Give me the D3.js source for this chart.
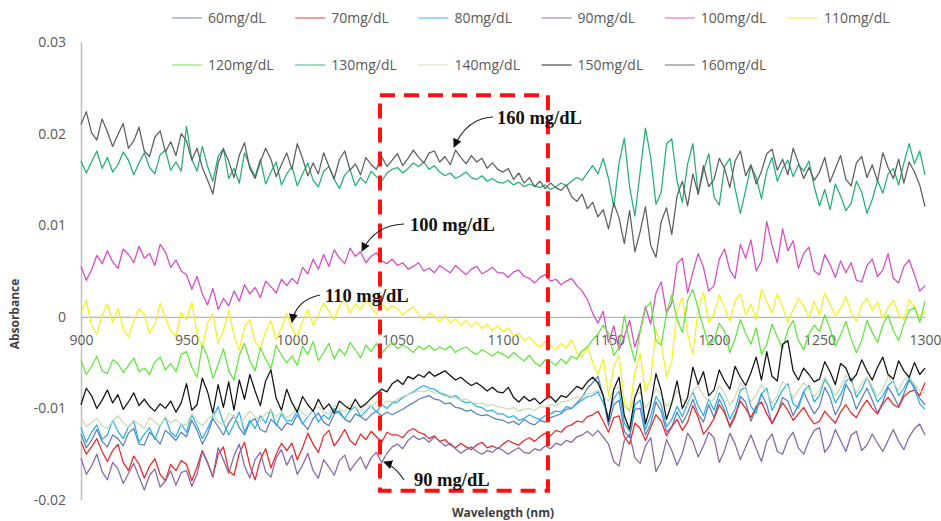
<!DOCTYPE html>
<html>
<head>
<meta charset="utf-8">
<script src="https://cdn.jsdelivr.net/npm/d3@7"></script>
<style>
  body { margin: 0; background: #fff; }
  svg { display: block; }
</style>
</head>
<body>
<div id="chart"></div>
<script>
// absorbance values are written x1000 (mAbs), one value every 2.5 nm, 900..1300
const wavelengths = d3.range(900, 1300.1, 2.5);

const concentrations = ["60mg/dL", "70mg/dL", "80mg/dL", "90mg/dL", "100mg/dL", "110mg/dL",
  "120mg/dL", "130mg/dL", "140mg/dL", "150mg/dL", "160mg/dL"];

const c60 = [
  -12.8, -14.3, -13.5, -12.3, -13.6, -14.2, -12.9, -13.3, -14.1, -12.7, -12.2, -13.9, -14.0, -12.6, -13.2, -13.9, -12.4, -12.9, -13.5, -12.6,
  -13.1, -11.3, -12.4, -13.9, -12.8, -11.1, -12.0, -12.9, -11.6, -10.8, -12.1, -12.9, -11.5, -11.1, -12.3, -12.6, -11.2, -11.7, -12.4, -11.6,
  -11.8, -10.7, -11.6, -12.3, -11.1, -10.5, -11.5, -11.9, -10.6, -10.3, -11.2, -11.5, -10.6, -10.9, -11.3, -10.7, -10.3, -10.8, -10.4, -10.7,
  -10.4, -10.1, -9.7, -9.4, -9.0, -8.8, -8.6, -9.0, -9.1, -9.5, -9.4, -9.9, -10.0, -10.3, -10.2, -10.6, -10.8, -10.7, -11.0, -11.2,
  -11.3, -11.6, -11.4, -11.8, -11.2, -11.6, -11.8, -11.3, -11.5, -11.0, -10.8, -10.6, -10.1, -10.0, -9.4, -8.8, -7.8, -7.2, -6.5, -8.7,
  -11.9, -9.6, -9.1, -12.5, -13.2, -10.1, -10.0, -12.9, -11.7, -9.3, -10.3, -12.6, -12.0, -10.4, -11.6, -10.5, -9.0, -10.6, -11.5, -9.6,
  -11.0, -9.0, -10.2, -12.1, -11.0, -8.7, -9.3, -11.4, -10.0, -8.4, -9.6, -11.7, -10.6, -8.8, -9.2, -10.8, -9.6, -8.2, -9.5, -10.6,
  -9.8, -7.7, -8.8, -10.7, -9.6, -7.4, -8.3, -10.1, -8.9, -7.8, -9.1, -10.5, -9.3, -7.7, -8.6, -9.8, -8.4, -6.9, -7.6, -8.9,
  -9.6];
const c70 = [
  -13.6, -15.0, -14.2, -13.3, -14.7, -15.8, -14.6, -13.9, -15.9, -16.8, -15.2, -16.1, -17.6, -16.3, -15.5, -17.2, -17.9, -16.1, -16.8, -15.7,
  -16.1, -17.9, -16.4, -14.6, -15.9, -17.5, -15.0, -14.2, -16.8, -17.3, -14.9, -13.7, -16.2, -17.8, -15.6, -14.4, -16.5, -15.0, -13.8, -14.6,
  -13.8, -15.6, -14.3, -12.7, -13.9, -14.8, -13.0, -12.4, -14.1, -13.3, -12.3, -13.5, -14.0, -12.8, -13.4, -12.5, -13.1, -13.7, -12.6, -12.9,
  -12.9, -13.2, -12.5, -12.2, -12.6, -12.8, -13.3, -13.0, -13.6, -13.4, -14.0, -14.3, -13.8, -14.2, -14.5, -14.0, -13.7, -14.3, -14.1, -14.4,
  -13.9, -13.5, -13.8, -14.0, -13.5, -13.2, -13.6, -13.1, -12.7, -13.0, -12.4, -12.6, -12.0, -11.8, -11.4, -11.5, -10.9, -10.7, -10.3, -11.4,
  -12.6, -11.0, -10.8, -13.1, -13.9, -11.6, -12.2, -13.5, -12.1, -10.7, -11.4, -13.0, -12.0, -11.2, -12.4, -11.5, -9.7, -11.0, -12.8, -12.1,
  -11.1, -9.6, -10.5, -11.9, -10.7, -9.2, -10.0, -11.0, -9.8, -9.3, -10.6, -11.6, -10.5, -9.4, -10.2, -11.3, -10.6, -9.9, -10.9, -11.7,
  -11.4, -10.3, -11.0, -11.6, -10.4, -9.6, -10.5, -11.0, -9.9, -9.1, -10.0, -10.6, -9.5, -8.8, -9.6, -9.9, -8.7, -8.2, -8.0, -8.6,
  -7.2];
const c80 = [
  -12.1, -13.7, -12.6, -11.8, -13.4, -12.9, -11.3, -12.5, -13.3, -12.0, -11.4, -13.7, -12.8, -12.1, -13.4, -11.9, -11.0, -12.6, -13.1, -11.7,
  -12.6, -10.7, -11.9, -13.3, -12.2, -10.9, -9.8, -11.6, -12.9, -11.7, -10.4, -12.6, -11.3, -12.2, -10.8, -11.6, -10.1, -11.9, -10.6, -11.4,
  -11.3, -10.3, -11.7, -10.9, -10.2, -11.5, -10.7, -11.2, -10.0, -10.6, -11.1, -10.2, -9.8, -10.9, -10.3, -9.7, -10.4, -9.6, -10.0, -9.4,
  -9.3, -8.8, -8.5, -8.2, -7.8, -7.5, -7.8, -7.9, -8.3, -8.5, -8.8, -8.6, -9.1, -9.4, -9.3, -9.8, -9.9, -10.3, -10.2, -10.6,
  -10.6, -11.0, -10.8, -11.3, -11.1, -10.7, -11.0, -11.2, -10.8, -10.6, -10.3, -10.4, -9.8, -10.0, -9.5, -9.1, -8.7, -8.6, -8.2, -9.4,
  -10.9, -8.9, -8.1, -11.6, -12.5, -9.6, -9.1, -12.3, -10.8, -8.7, -9.6, -12.0, -11.2, -9.8, -10.9, -9.4, -8.2, -9.7, -10.8, -9.0,
  -10.2, -8.3, -9.4, -11.2, -10.1, -8.0, -7.7, -9.8, -10.5, -8.4, -7.8, -10.2, -9.1, -8.0, -7.3, -9.5, -10.0, -8.1, -7.5, -9.3,
  -8.6, -6.8, -7.7, -9.4, -8.5, -7.0, -6.7, -8.8, -7.9, -6.6, -7.9, -9.3, -8.6, -7.5, -7.0, -8.6, -7.8, -6.7, -7.9, -9.5,
  -10.1];
const c90 = [
  -15.4, -17.2, -16.3, -15.0, -16.9, -17.8, -15.9, -16.6, -18.2, -17.1, -16.0, -17.5, -18.9, -17.3, -16.6, -18.6, -17.9, -16.8, -18.4, -17.0,
  -16.8, -18.5, -17.2, -14.7, -16.0, -17.4, -14.3, -15.6, -17.1, -15.2, -13.9, -16.3, -17.6, -15.6, -14.8, -16.9, -17.5, -15.4, -14.5, -16.2,
  -15.1, -17.2, -16.2, -14.9, -16.8, -17.6, -15.6, -16.4, -17.3, -15.7, -15.1, -16.8, -16.0, -15.3, -16.6, -15.4, -14.8, -15.9, -14.9, -14.2,
  -13.9, -14.4, -13.5, -13.0, -13.4, -13.2, -13.7, -13.1, -13.6, -14.1, -13.8, -14.4, -14.9, -14.5, -14.2, -14.7, -15.0, -14.6, -14.8, -14.3,
  -14.6, -15.0, -14.6, -14.3, -14.8, -14.9, -14.4, -14.6, -14.1, -14.4, -13.8, -14.0, -13.5, -13.7, -13.1, -12.9, -12.5, -13.0, -12.4, -13.1,
  -13.9, -15.8, -16.3, -13.5, -12.8, -15.4, -16.0, -14.1, -13.2, -16.9, -15.8, -13.4, -14.6, -16.2, -14.9, -12.7, -13.6, -15.3, -14.1, -12.6,
  -13.2, -15.9, -14.6, -12.7, -13.9, -15.6, -14.2, -12.9, -14.4, -15.8, -13.6, -12.8, -14.7, -15.0, -13.4, -12.6, -14.3, -15.0, -13.5, -12.4,
  -12.1, -14.8, -14.0, -12.3, -13.5, -14.7, -12.9, -12.5, -14.6, -14.0, -12.8, -13.8, -14.7, -13.5, -12.3, -13.6, -14.5, -13.1, -12.2, -11.7,
  -12.9];
const c100 = [
  5.5, 4.0, 5.1, 6.7, 5.8, 7.2, 6.0, 5.3, 7.4, 6.8, 5.9, 7.7, 6.4, 6.9, 5.6, 7.9, 7.1, 5.4, 6.2, 5.0,
  4.6, 3.0, 4.4, 2.5, 1.3, 3.1, 0.8, 2.0, 1.2, 2.8, 1.7, 3.5, 2.5, 3.2, 2.1, 3.9, 3.3, 2.6, 4.1, 3.4,
  4.2, 3.6, 5.4, 4.7, 6.3, 5.2, 6.8, 5.5, 7.3, 6.4, 5.8, 7.5, 6.6, 7.1, 5.9, 6.6, 7.0, 6.1, 5.8, 6.3,
  5.6, 5.9, 5.2, 5.5, 5.9, 5.0, 5.3, 4.8, 5.6, 5.2, 4.8, 5.6, 5.1, 4.6, 5.2, 5.5, 4.7, 5.0, 5.4, 4.8,
  4.8, 4.3, 4.9, 5.1, 4.4, 4.2, 3.7, 4.3, 4.6, 3.9, 4.1, 3.5, 3.9, 4.2, 3.4, 2.8, 1.9, 0.4, -0.7, 0.6,
  -2.8, -1.0, -3.6, -2.2, -0.4, -3.3, -1.5, 1.1, -0.8, 2.6, 3.8, 0.4, 1.5, 5.8, 6.4, 2.6, 4.9, 6.9, 5.4, 2.8,
  3.4, 6.3, 7.4, 5.1, 4.2, 7.9, 6.4, 8.4, 5.0, 6.1, 10.4, 7.8, 5.9, 9.6, 7.2, 8.3, 5.3, 6.9, 7.6, 5.0,
  4.6, 6.8, 5.7, 4.3, 6.1, 4.8, 5.9, 4.0, 3.8, 5.6, 6.3, 4.4, 5.1, 6.9, 4.2, 3.7, 5.5, 6.2, 4.6, 2.8,
  3.4];
const c110 = [
  0.4, 1.8, -0.9, -1.9, 0.2, 1.4, -0.6, 0.9, -1.3, -2.2, -0.4, 0.9, 0.2, -1.8, -0.8, 1.5, -0.1, -1.6, -2.1, 0.5,
  -0.3, 1.6, -1.8, -3.4, -0.6, 0.3, -2.9, -1.5, 0.7, -2.0, -3.7, -1.1, -0.3, -2.7, -3.5, -1.6, -0.4, -2.5, -1.2, 0.4,
  -1.3, -2.1, -0.5, 0.8, -0.9, 0.2, 1.5, 0.6, -0.3, 1.2, 1.9, 0.4, 1.4, 0.8, 2.0, 1.1, 0.3, 1.6, 0.7, 1.2,
  0.9, 0.2, 0.7, 1.1, 0.3, -0.4, 0.4, 0.1, -0.5, 0.2, -0.7, -0.2, -0.9, -0.4, -1.1, -0.5, -1.3, -0.8, -1.5, -1.0,
  -1.6, -1.2, -2.1, -1.8, -2.6, -2.2, -2.9, -3.3, -2.7, -3.1, -3.6, -2.9, -3.4, -2.5, -3.9, -4.4, -3.2, -5.0, -6.3, -4.6,
  -8.6, -5.4, -4.2, -9.3, -10.3, -6.1, -4.0, -8.2, -6.8, -1.5, -3.0, -6.5, -4.8, 0.6, 2.1, -1.9, -4.1, 0.9, 2.7, -0.6,
  0.3, 2.4, 1.0, -0.5, 1.8, 2.5, 0.2, 1.4, -0.3, 3.0, 1.6, 0.4, 2.5, 1.1, -0.6, 0.8, 2.0, 1.2, -0.1, 1.7,
  0.2, 2.6, 1.4, 0.1, 0.9, 2.2, 0.5, -0.5, 1.3, 2.0, 0.7, 1.6, -0.2, 1.0, 1.8, 0.3, -0.3, 1.9, 1.1, -0.2,
  0.6];
const c120 = [
  -4.8, -6.3, -5.4, -4.3, -5.9, -6.2, -4.7, -5.1, -6.1, -5.3, -4.5, -6.0, -5.6, -6.3, -4.9, -4.4, -5.8, -5.1, -6.0, -4.1,
  -3.8, -5.5, -6.6, -3.1, -4.4, -6.7, -5.2, -3.5, -5.9, -6.9, -4.2, -2.9, -4.8, -5.9, -3.4, -4.6, -5.7, -3.1, -4.2, -5.0,
  -4.3, -5.3, -3.2, -4.1, -2.7, -4.8, -3.9, -2.9, -4.6, -3.5, -4.2, -2.8, -3.6, -4.5, -3.1, -3.8, -2.9, -4.0, -3.3, -2.8,
  -3.5, -3.1, -3.4, -3.9, -3.2, -3.6, -3.1, -3.7, -3.3, -3.6, -3.2, -3.9, -3.5, -3.3, -3.8, -4.1, -3.6, -3.9, -4.3, -3.8,
  -4.1, -4.5, -3.9, -4.4, -4.8, -4.2, -5.0, -5.4, -4.7, -4.9, -5.3, -4.6, -5.1, -4.3, -4.6, -3.7, -3.3, -2.5, -1.9, -0.9,
  -1.8, -4.2, -3.4, 0.1, -2.7, -4.9, -1.6, 0.9, 1.6, -2.6, -3.1, 0.4, 2.4, -0.3, -1.7, 1.8, 3.0, 0.9, -1.2, -3.1,
  -2.6, -0.7, -1.6, -3.9, -2.4, -0.3, -1.8, -3.0, -1.2, -4.1, -3.0, -0.8, -2.2, -3.5, -1.4, -0.4, -2.6, -3.6, -1.9, -0.9,
  -1.6, 0.2, -1.3, -3.2, -2.0, -0.5, -2.4, -3.9, -2.6, -0.4, -1.7, -2.8, -0.9, 0.2, -1.5, -2.6, -0.8, 0.7, 1.0, -0.6,
  1.7];
const c130 = [
  17.0, 15.7, 16.9, 18.1, 16.2, 17.4, 15.8, 16.6, 18.0, 17.1, 15.5, 16.8, 17.9, 16.3, 15.6, 17.7, 18.2, 16.0, 16.9, 15.9,
  20.8, 17.2, 15.9, 18.6, 16.4, 14.8, 17.5, 18.4, 15.1, 16.2, 14.6, 17.9, 16.5, 15.3, 17.2, 14.5, 15.8, 16.9, 14.4, 15.6,
  16.4, 14.3, 15.6, 16.8, 14.9, 14.2, 15.9, 16.4, 15.0, 14.0, 15.5, 16.1, 14.3, 15.2, 14.6, 15.9, 15.3, 14.8, 15.7, 16.1,
  16.3, 15.7, 16.2, 16.8, 16.4, 16.9, 16.1, 16.5, 15.8, 15.4, 15.7, 15.1, 15.4, 15.8, 15.2, 15.0, 15.4, 14.8, 15.1, 14.7,
  14.6, 14.9, 14.4, 14.7, 14.2, 14.5, 14.3, 14.1, 14.4, 13.9, 14.2, 14.6, 14.3, 14.8, 15.2, 14.9, 15.7, 16.5, 15.6, 17.3,
  15.1, 12.0, 16.8, 19.5, 14.2, 11.0, 15.8, 20.6, 17.4, 12.3, 13.6, 18.9, 19.4, 14.8, 12.5, 16.7, 18.9, 13.4, 15.9, 17.8,
  13.1, 12.2, 16.4, 17.3, 14.0, 11.3, 13.8, 16.5, 15.2, 12.9, 15.9, 17.4, 14.8, 16.2, 17.1, 15.3, 16.6, 15.9, 17.0, 14.2,
  12.1, 13.9, 11.7, 14.5, 13.2, 11.6, 12.4, 14.8, 13.6, 11.3, 12.8, 14.9, 13.5, 15.6, 16.2, 14.4, 16.8, 18.9, 16.7, 18.1,
  15.5];
const c140 = [
  -11.0, -12.0, -11.5, -11.1, -11.9, -12.2, -11.4, -10.8, -11.6, -12.1, -11.3, -11.7, -12.2, -11.0, -11.5, -11.9, -10.9, -11.6, -11.2, -11.8,
  -11.8, -10.6, -11.3, -11.9, -11.2, -10.7, -11.5, -11.8, -10.5, -10.9, -11.6, -11.1, -10.3, -10.9, -11.4, -10.6, -10.2, -10.9, -10.4, -11.0,
  -10.6, -9.9, -10.5, -10.9, -10.1, -9.8, -10.4, -10.6, -9.6, -10.1, -10.3, -9.5, -9.9, -10.2, -9.5, -9.8, -9.3, -9.7, -9.2, -9.3,
  -9.0, -8.7, -8.5, -8.3, -8.1, -8.2, -8.0, -8.3, -8.4, -8.7, -8.6, -8.9, -9.1, -9.0, -9.3, -9.5, -9.4, -9.7, -9.6, -9.8,
  -9.9, -10.1, -9.9, -10.3, -10.1, -10.0, -10.2, -9.8, -9.9, -9.6, -9.7, -9.3, -9.2, -9.0, -8.8, -8.7, -8.4, -8.3, -8.0, -8.7,
  -9.2, -7.9, -7.7, -9.8, -10.3, -8.6, -8.2, -10.0, -9.1, -7.8, -8.5, -9.8, -9.3, -8.1, -9.0, -9.7, -8.0, -7.6, -8.6, -9.3,
  -9.0, -7.5, -8.3, -9.7, -8.8, -7.2, -7.9, -9.3, -8.5, -7.4, -8.2, -9.4, -8.6, -7.1, -7.6, -8.9, -8.0, -7.2, -7.9, -8.7,
  -8.0, -6.6, -7.5, -8.6, -7.7, -6.4, -7.1, -8.3, -7.2, -6.6, -7.6, -8.7, -7.9, -6.5, -7.2, -8.0, -6.9, -6.5, -7.4, -8.1,
  -8.3];
const c150 = [
  -9.6, -7.8, -8.6, -10.0, -9.1, -8.0, -9.4, -8.5, -10.1, -9.3, -8.3, -9.7, -9.0, -9.8, -10.3, -9.5, -10.0, -9.2, -10.4, -9.4,
  -7.3, -10.2, -9.6, -6.7, -8.2, -10.5, -7.4, -9.9, -7.1, -10.2, -6.9, -9.0, -6.3, -8.1, -9.7, -7.0, -5.8, -8.9, -10.2, -7.9,
  -9.4, -10.4, -8.7, -9.6, -10.3, -9.0, -10.1, -9.5, -10.5, -9.2, -9.7, -10.1, -9.0, -9.9, -9.5, -8.9, -8.4, -7.9, -8.2, -7.3,
  -6.9, -7.4, -6.5, -6.8, -6.3, -6.6, -6.0, -6.5, -6.2, -5.9, -6.4, -6.9, -6.6, -7.1, -7.5, -7.2, -7.6, -8.1, -7.7, -8.2,
  -8.3, -7.7, -8.8, -9.3, -8.7, -9.2, -8.9, -9.5, -9.0, -8.7, -9.3, -8.6, -8.8, -8.2, -7.6, -7.9, -7.1, -6.6, -7.2, -8.6,
  -11.4, -7.9, -6.6, -10.8, -12.3, -8.8, -7.3, -11.7, -9.6, -6.2, -8.1, -11.2, -9.4, -7.0, -10.0, -8.8, -5.5, -7.4, -6.0, -8.6,
  -8.0, -5.8, -7.0, -7.9, -5.4, -6.6, -7.5, -6.1, -4.4, -6.9, -3.8, -6.5, -7.0, -3.0, -2.6, -5.9, -6.9, -5.6, -6.3, -7.1,
  -6.8, -4.9, -6.0, -7.4, -5.1, -5.6, -7.0, -6.3, -4.7, -5.9, -6.9, -5.5, -4.4, -6.3, -6.8, -4.8, -5.9, -6.6, -5.0, -6.3,
  -5.6];
const c160 = [
  21.0, 22.4, 20.1, 19.3, 21.6, 20.2, 18.6, 19.9, 21.1, 18.4, 19.2, 20.7, 18.1, 17.5, 19.6, 20.3, 18.0, 19.1, 17.6, 20.0,
  19.2, 17.1, 18.4, 16.3, 14.9, 13.4, 16.8, 18.3, 17.0, 15.2, 17.6, 19.0, 16.2, 15.1, 16.9, 18.4, 17.2, 15.3, 16.6, 17.9,
  16.1, 18.9, 17.3, 15.4, 16.8, 15.6, 17.9, 16.4, 15.1, 17.2, 18.1, 16.0, 16.7, 15.5, 17.4, 16.6, 16.1, 17.5, 16.4, 17.1,
  17.8, 16.5, 17.3, 18.2, 17.4, 16.8, 17.9, 18.1, 16.9, 17.5, 16.6, 18.2, 17.4, 16.7, 17.6, 16.9, 17.3, 16.2, 16.8, 16.1,
  15.8, 16.2, 15.0, 15.7, 14.6, 15.2, 14.2, 14.8, 14.0, 14.6, 14.1, 13.8, 14.4, 13.1, 12.6, 13.4, 11.8, 12.5, 10.9, 11.7,
  9.6, 12.4, 10.8, 8.0, 11.6, 7.1, 9.3, 12.0, 7.8, 6.5, 10.4, 11.9, 9.0, 13.2, 14.8, 12.1, 15.6, 13.4, 16.5, 14.2,
  15.0, 17.3, 16.2, 14.1, 17.0, 18.1, 15.4, 16.6, 14.5, 15.9, 17.8, 18.3, 16.0, 17.2, 15.5, 18.4, 16.8, 15.1, 16.3, 14.9,
  15.8, 17.4, 14.7, 16.2, 17.6, 15.0, 14.3, 16.8, 17.5, 15.2, 16.6, 14.8, 17.9, 16.3, 15.1, 17.2, 14.6, 16.9, 15.8, 14.4,
  12.0];

const seriesValues = [c60, c70, c80, c90, c100, c110, c120, c130, c140, c150, c160];
const colors = ["#5b7fc0", "#ee2424", "#2ab0e8", "#8466ac", "#d848c8", "#f6f21c",
  "#5ee83a", "#22b070", "#c8dcb0", "#111111", "#5e5e5e"];

const xTicks = [900, 950, 1000, 1050, 1100, 1150, 1200, 1250, 1300];
const yTicks = [-0.02, -0.01, 0, 0.01, 0.02, 0.03];
const yTickLabels = ["-0.02", "-0.01", "0", "0.01", "0.02", "0.03"];

// callouts, positions in (nm, mAbs)
const callouts = [
  { text: "160 mg/dL", at: [1097.2, 21.05], arrow: [[1095.3, 21.81], [1082.9, 21.7], [1076.8, 18.54]] },
  { text: "100 mg/dL", at: [1055.9, 9.37], arrow: [[1053.1, 10.13], [1039.3, 10.02], [1033.2, 7.18]] },
  { text: "110 mg/dL", at: [1015.6, 1.62], arrow: [[1013.3, 2.38], [1001.9, 1.83], [1000.0, -0.57]] },
  { text: "90 mg/dL", at: [1057.8, -18.47], arrow: [[1053.1, -17.82], [1048.8, -16.29], [1043.6, -15.85]] }
];
const focusBox = { x0: 1041.7, x1: 1121.3, top: 24.2, bottom: -19.0 };

const width = 941;
const height = 521;
const margin = { top: 42, right: 16, bottom: 21, left: 81 };

const svg = d3
  .select("#chart")
  .append("svg")
  .attr("width", width)
  .attr("height", height);

const x = d3
  .scaleLinear()
  .domain([900, 1300])
  .range([margin.left, width - margin.right]);

const y = d3
  .scaleLinear()
  .domain([-0.02, 0.03])
  .range([height - margin.bottom, margin.top]);

const ym = v => y(v / 1000);

// y axis
const yAxis = svg
  .append("g")
  .attr("transform", `translate(${margin.left},0)`)
  .call(
    d3.axisLeft(y)
      .tickValues(yTicks)
      .tickFormat((d, i) => yTickLabels[i])
      .tickSize(0)
      .tickPadding(15)
  );
yAxis.select(".domain").attr("stroke", "#bfbfbf").attr("stroke-width", 1.5);
yAxis.selectAll("text")
  .attr("font-family", "Open Sans")
  .attr("font-size", 14)
  .attr("fill", "#595959");

// x axis crosses at zero
const xAxis = svg
  .append("g")
  .attr("transform", `translate(0,${y(0)})`)
  .call(
    d3.axisBottom(x)
      .tickValues(xTicks)
      .tickFormat(d3.format("d"))
      .tickSize(0)
      .tickPadding(18)
  );
xAxis.select(".domain").attr("stroke", "#a6a6a6").attr("stroke-width", 1);
xAxis.selectAll("text")
  .attr("font-family", "Open Sans")
  .attr("font-size", 14)
  .attr("fill", "#595959");

// spectra
const line = d3
  .line()
  .x((d, i) => x(wavelengths[i]))
  .y(d => ym(d));

svg
  .append("g")
  .selectAll("path")
  .data(seriesValues)
  .enter()
  .append("path")
  .attr("d", line)
  .attr("fill", "none")
  .attr("stroke", (d, i) => colors[i])
  .attr("stroke-width", 1.25)
  .attr("stroke-linejoin", "round");

// legend
const legend = svg
  .append("g")
  .selectAll("g")
  .data(concentrations)
  .enter()
  .append("g")
  .attr("transform", (d, i) => `translate(${172 + (i % 6) * 123.2},${i < 6 ? 18 : 65})`);

legend
  .append("line")
  .attr("x1", 0)
  .attr("x2", 30)
  .attr("stroke", (d, i) => colors[i])
  .attr("stroke-width", 1.5)
  .attr("opacity", 0.6);

legend
  .append("text")
  .attr("x", 36)
  .attr("dy", "0.35em")
  .attr("font-family", "Open Sans")
  .attr("font-size", 14)
  .attr("fill", "#595959")
  .text(d => d);

// axis titles
svg
  .append("text")
  .attr("transform", `translate(19,${(y(0.03) + y(-0.02)) / 2 + 43}) rotate(-90)`)
  .attr("text-anchor", "middle")
  .attr("font-family", "Open Sans")
  .attr("font-weight", "bold")
  .attr("font-size", 12)
  .attr("fill", "#404040")
  .text("Absorbance");

svg
  .append("text")
  .attr("x", 503)
  .attr("y", 517)
  .attr("text-anchor", "middle")
  .attr("font-family", "Open Sans")
  .attr("font-weight", "bold")
  .attr("font-size", 12)
  .attr("fill", "#404040")
  .text("Wavelength (nm)");

// dashed focus box
svg
  .append("rect")
  .attr("x", x(focusBox.x0))
  .attr("y", ym(focusBox.top))
  .attr("width", x(focusBox.x1) - x(focusBox.x0))
  .attr("height", ym(focusBox.bottom) - ym(focusBox.top))
  .attr("fill", "none")
  .attr("stroke", "#ff1010")
  .attr("stroke-width", 4)
  .attr("stroke-dasharray", "15 9");

// arrow head
svg
  .append("defs")
  .append("marker")
  .attr("id", "head")
  .attr("viewBox", "0 0 10 10")
  .attr("refX", 9)
  .attr("refY", 5)
  .attr("markerWidth", 9)
  .attr("markerHeight", 9)
  .attr("markerUnits", "userSpaceOnUse")
  .attr("orient", "auto")
  .append("path")
  .attr("d", "M0,0L10,5L0,10z")
  .attr("fill", "#111");

const call = svg.append("g").selectAll("g").data(callouts).enter().append("g");

call
  .append("path")
  .attr("d", d => {
    const p = d3.path();
    const [a, b, c] = d.arrow;
    p.moveTo(x(a[0]), ym(a[1]));
    p.quadraticCurveTo(x(b[0]), ym(b[1]), x(c[0]), ym(c[1]));
    return p.toString();
  })
  .attr("fill", "none")
  .attr("stroke", "#222")
  .attr("stroke-width", 1.2)
  .attr("marker-end", "url(#head)");

call
  .append("text")
  .attr("x", d => x(d.at[0]))
  .attr("y", d => ym(d.at[1]))
  .attr("font-family", "Liberation Serif")
  .attr("font-weight", "bold")
  .attr("font-size", 18.5)
  .attr("fill", "#111")
  .text(d => d.text);
</script>
</body>
</html>
